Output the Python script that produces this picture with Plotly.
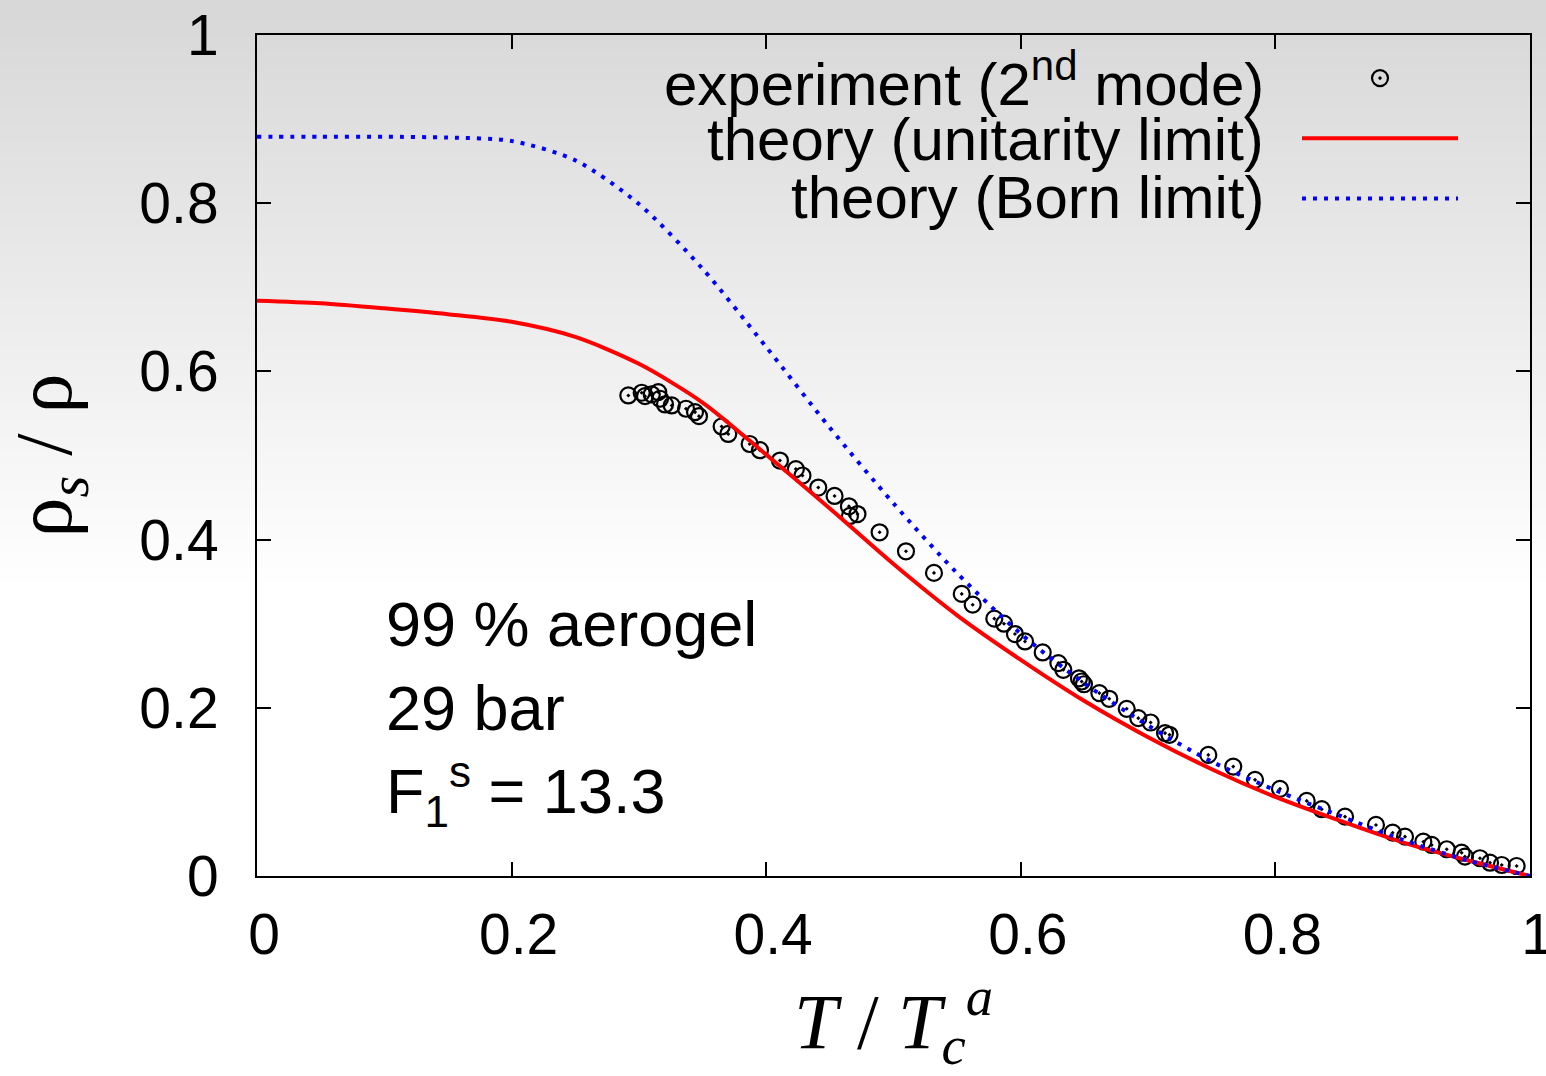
import plotly.graph_objects as go

# ---------------- data ----------------
theory_t = [0.0, 0.05, 0.1, 0.15, 0.2, 0.25, 0.3, 0.35, 0.4, 0.45, 0.5,
            0.55, 0.6, 0.65, 0.7, 0.75, 0.8, 0.85, 0.9, 0.95, 1.0]
unitarity_rho = [0.684, 0.681, 0.675, 0.668, 0.659, 0.641, 0.609, 0.563, 0.501, 0.437, 0.371,
                 0.310, 0.257, 0.208, 0.165, 0.127, 0.094, 0.066, 0.040, 0.019, 0.0]
born_rho = [0.879, 0.879, 0.879, 0.878, 0.874, 0.851, 0.799, 0.722, 0.629, 0.533, 0.443,
            0.360, 0.288, 0.229, 0.179, 0.136, 0.102, 0.072, 0.043, 0.019, 0.0]

exp_t = [0.2917, 0.3022, 0.3048, 0.3101, 0.3152, 0.3166, 0.3205, 0.3258, 0.3370, 0.3441,
         0.3472, 0.3650, 0.3702, 0.3870, 0.3951, 0.4108, 0.4233, 0.4285, 0.4409, 0.4537,
         0.4650, 0.4717, 0.4658, 0.4891, 0.5098, 0.5318, 0.5536, 0.5622, 0.5792, 0.5868,
         0.5954, 0.6033, 0.6172, 0.6295, 0.6334, 0.6457, 0.6478, 0.6496, 0.6617, 0.6695,
         0.6832, 0.6923, 0.7020, 0.7133, 0.7168, 0.7473, 0.7669, 0.7840, 0.8036, 0.8246,
         0.8364, 0.8547, 0.8790, 0.8921, 0.9018, 0.9162, 0.9228, 0.9346, 0.9463, 0.9489,
         0.9607, 0.9686, 0.9778, 0.9895]
exp_rho = [0.5714, 0.5746, 0.5706, 0.5726, 0.5754, 0.5675, 0.5607, 0.5595, 0.5556, 0.5516,
           0.5468, 0.5345, 0.5256, 0.5137, 0.5063, 0.4940, 0.4838, 0.4762, 0.4619, 0.4519,
           0.4396, 0.4304, 0.4281, 0.4087, 0.3861, 0.3604, 0.3354, 0.3226, 0.3060, 0.3000,
           0.2877, 0.2789, 0.2658, 0.2532, 0.2452, 0.2351, 0.2313, 0.2280, 0.2175, 0.2107,
           0.1988, 0.1877, 0.1825, 0.1699, 0.1679, 0.1440, 0.1301, 0.1143, 0.1036, 0.0893,
           0.0794, 0.0706, 0.0607, 0.0515, 0.0468, 0.0408, 0.0369, 0.0318, 0.0277, 0.0230,
           0.0211, 0.0158, 0.0131, 0.0119]

tick_vals = [0, 0.2, 0.4, 0.6, 0.8, 1]
tick_text = ["0", "0.2", "0.4", "0.6", "0.8", "1"]

legend_labels = ["experiment (2<sup>nd</sup> mode)",
                 "theory (unitarity limit)",
                 "theory (Born limit)"]
info_lines = ["99 % aerogel", "29 bar", "F<sub>1</sub><sup>s</sup> = 13.3"]

# ---------------- figure ----------------
W, H = 1546, 1076
ML, MR, MT, MB = 257, 16, 35, 200
PW, PH = W - ML - MR, H - MT - MB

fig = go.Figure()

fig.add_trace(go.Scatter(
    x=exp_t, y=exp_rho, mode="markers", name="",
    marker=dict(symbol="circle-open-dot", size=16, color="black",
                line=dict(width=2.2, color="black")),
    hovertemplate="experiment: %{x}, %{y}<extra></extra>"))
fig.add_trace(go.Scatter(
    x=theory_t, y=unitarity_rho, mode="lines", name="",
    line=dict(color="#ff0000", width=4, shape="spline", smoothing=0.8),
    hovertemplate="unitarity: %{x}, %{y}<extra></extra>"))
fig.add_trace(go.Scatter(
    x=theory_t, y=born_rho, mode="lines", name="",
    line=dict(color="#0000ff", width=4, dash="4px,7px", shape="spline", smoothing=0.8),
    hovertemplate="Born: %{x}, %{y}<extra></extra>"))

# background gradient (whole page), drawn as thin horizontal bands
shapes = []
grad_end = 590  # px from the top where it becomes white
nb = 80
for i in range(nb):
    y0p = grad_end * i / nb
    y1p = grad_end * (i + 1) / nb
    t = (i + 0.5) / nb
    c = int(round(215 + (255 - 215) * t))
    shapes.append(dict(
        type="rect", xref="paper", yref="paper", layer="below",
        x0=-ML / PW - 0.01, x1=1 + MR / PW + 0.01,
        y0=(H - MB - y1p - 0.5) / PH, y1=(H - MB - y0p + 0.5) / PH,
        line=dict(width=0), fillcolor=f"rgb({c},{c},{c})"))

annotations = []
leg_x = (1266 - ML) / PW
for lab, py in zip(legend_labels, [80, 139, 197]):
    annotations.append(dict(
        x=leg_x, y=(H - MB - py) / PH, xref="paper", yref="paper",
        text=lab, showarrow=False, xanchor="right", yanchor="middle",
        font=dict(family="Liberation Sans", size=60, color="black")))
for lab, yv in zip(info_lines, [0.30, 0.20, 0.10]):
    annotations.append(dict(
        x=0.1, y=yv, xref="x", yref="y", text=lab, showarrow=False,
        xanchor="left", yanchor="middle",
        font=dict(family="Liberation Sans", size=63, color="black")))

axis_common = dict(
    range=[0, 1], tickvals=tick_vals, ticktext=tick_text,
    showgrid=False, zeroline=False, showline=True, linecolor="black", linewidth=2,
    mirror="ticks", ticks="inside", ticklen=14, tickwidth=2, tickcolor="black",
    tickfont=dict(family="Liberation Sans", size=57, color="black"),
    ticklabeloverflow="allow",
)

fig.update_layout(
    width=W, height=H,
    margin=dict(l=ML, r=MR, t=MT, b=MB, autoexpand=False),
    paper_bgcolor="white", plot_bgcolor="rgba(0,0,0,0)",
    shapes=shapes, annotations=annotations,
    showlegend=True,
    legend=dict(x=(1297 - ML) / PW, y=(H - MB - 43) / PH, xanchor="left", yanchor="top",
                bgcolor="rgba(0,0,0,0)", borderwidth=0, itemwidth=156,
                font=dict(family="Liberation Sans", size=44), tracegroupgap=0),
    xaxis=dict(**axis_common, ticklabelstandoff=8, ticklabelshift=7,
               title=dict(text="<i>T</i> / <i>T</i><sub><i>c</i></sub><sup><i>a</i></sup>",
                          font=dict(family="Liberation Serif", size=78, color="black"),
                          standoff=20)),
    yaxis=dict(**axis_common, ticklabelstandoff=25,
               title=dict(text="ρ<sub><i>s</i></sub> / ρ",
                          font=dict(family="Liberation Serif", size=80, color="black"),
                          standoff=43)),
)

fig.write_html("out.html")
